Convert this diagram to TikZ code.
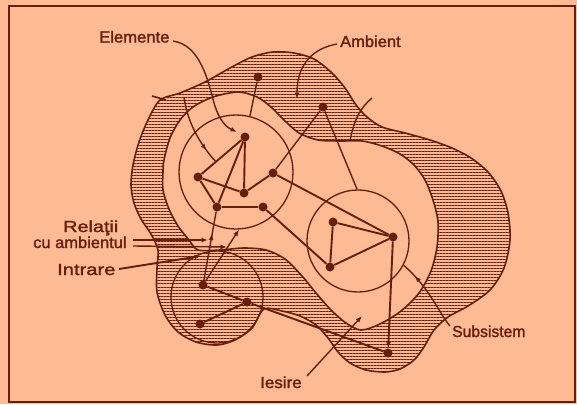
\documentclass[tikz,border=0pt]{standalone}
\usepackage{fontspec}
\setmainfont{Liberation Sans}
\newfontfamily\lblfont[FakeBold=1.6]{Liberation Sans}
\usetikzlibrary{arrows.meta,patterns.meta,decorations.markings,calc}
\definecolor{bg}{RGB}{255,187,148}
\definecolor{ink}{RGB}{105,30,10}
\begin{document}
\begin{tikzpicture}[x=1pt,y=-1pt,
  dot/.style={circle,fill=ink,inner sep=0pt,minimum size=9pt},
  ring/.style={circle,draw=ink,line width=1.3pt,inner sep=0pt},
  edge/.style={draw=ink,line width=1.9pt},
  thin/.style={draw=ink,line width=1.4pt},
  arr/.style={-{Latex[length=6.5pt,width=5pt]}},
  midarr/.style={postaction={decorate},decoration={markings,mark=at position #1 with {\arrow{Latex[length=6.5pt,width=5pt]}}}},
  lbl/.style={font=\lblfont\fontsize{16}{18}\selectfont,text=ink,inner sep=0pt,anchor=base west}]
\fill[bg] (0,0) rectangle (577,404);
\useasboundingbox (0,0) rectangle (577,404);
\draw[ink,line width=2pt] (9,6.5) rectangle (575,401.5);
% ambient band (hatched) between outer and inner boundary
\draw[ink,line width=1.6pt,pattern={Lines[angle=0,distance=3pt,line width=1pt]},pattern color=ink,even odd rule]
 plot[smooth cycle] coordinates {(160,100) (180,93) (205,82) (230,68) (252,57) (273,52) (294,53) (314,59) (332,73) (345,88) (356,105) (367,117) (382,127) (405,133) (430,140) (452,148) (471,158) (488,172) (501,191) (508,213) (510,240) (504,268) (490,290) (468,306) (448,317) (434,330) (424,347) (414,360) (400,369) (385,372) (366,370) (350,363) (338,352) (328,338) (316,325) (300,316) (282,311) (264,309) (252,328) (235,340) (217,345) (196,342) (178,332) (165,315) (157,292) (157,268) (158,250) (151,234) (141,219) (134,203) (131,185) (133,165) (139,142) (148,120)}
 plot[smooth cycle] coordinates {(164,160) (170,138) (180,120) (193,107) (213,97) (238,92) (257,97) (271,107) (284,120) (299,133) (318,140) (340,141) (362,141) (382,146) (400,154) (414,165) (425,180) (433,200) (438,222) (437,247) (431,271) (419,293) (401,311) (380,324) (361,330) (346,323) (331,310) (316,293) (302,276) (285,259) (266,250) (244,248) (220,250) (198,250) (189,240) (178,226) (169,209) (163,190) (163,172)};
\draw[ink,line width=1.6pt] (152,96) -- (166,100);
% subsystems
\node[ring,minimum size=114pt] (C1) at (236,172) {};
\node[ring,minimum size=102pt] (C2) at (358,241) {};
\node[ring,minimum size=92pt] (C3) at (217,297) {};
% elements
\node[dot] (A) at (245,137) {};
\node[dot] (B) at (198,177) {};
\node[dot] (C) at (244,193) {};
\node[dot] (D) at (273,173) {};
\node[dot] (E) at (217,207) {};
\node[dot] (F) at (263,207) {};
\node[dot] (P) at (333,222) {};
\node[dot] (R) at (393,237) {};
\node[dot] (Q) at (330,267) {};
\node[dot] (K) at (203,285) {};
\node[dot] (M) at (247,302) {};
\node[dot] (L) at (200,324) {};
\node[dot] (T1) at (258,77) {};
\node[dot] (T2) at (323,107) {};
\node[dot] (S) at (388,353) {};
% relations
\draw[edge] (A) -- (B);
\draw[edge] (A) -- (E);
\draw[edge] (A) -- (C);
\draw[edge] (B) -- (C);
\draw[edge] (B) -- (E);
\draw[edge] (C) -- (D);
\draw[edge] (E) -- (F);
\draw[edge] (D) -- (R);
\draw[edge] (F) -- (Q);
\draw[edge] (P) -- (R);
\draw[edge] (P) -- (Q);
\draw[edge] (Q) -- (R);
\draw[edge] (K) -- (M);
\draw[edge] (M) -- (L);
\draw[edge] (M) -- (S);
\draw[edge,arr] (R) -- (S);
\draw[thin] (T1) -- (C1.76);
\draw[thin] (T2) -- (D);
\draw[thin] (T2) -- (C2.91);
\draw[thin,midarr=0.68] (K) -- (E);
\draw[thin,arr] (K) -- (C1.-87);
\coordinate (ab) at ($(A)!0.62!(B)$);
\coordinate (in0) at (184,97);
\draw[thin,midarr=0.8] (in0) .. controls (187,120) and (198,142) .. (ab);
\coordinate (o1) at (350,141);
\coordinate (o2) at (372,98);
\draw[thin] (o1) .. controls (354,120) and (360,108) .. (o2);
% labels
\node[lbl] (lE) at (99,42.5) {\scalebox{1.04}[1]{Elemente}};
\node[lbl] (lA) at (340,47) {\scalebox{1.03}[1]{Ambient}};
\node[lbl] (lR) at (63,232) {\scalebox{1.24}[1]{Relaţii}};
\node[lbl] (lC) at (33,248) {\scalebox{1.03}[1]{cu ambientul}};
\node[lbl] (lI) at (57,275) {\scalebox{1.26}[1]{Intrare}};
\node[lbl] (lS) at (452,337) {\scalebox{0.98}[1]{Subsistem}};
\node[lbl] (lO) at (260,388) {\scalebox{1.06}[1]{Iesire}};
% leaders
\coordinate (e0) at (173,41);
\draw[thin,arr] (e0) .. controls (200,45) and (208,80) .. (214,103) .. controls (219,120) and (226,127) .. (237,132);
\coordinate (a0) at (337,44);
\draw[thin,arr] (a0) .. controls (315,48) and (297,62) .. (297,99);
\coordinate (r1) at (133,240);
\coordinate (r1e) at (208,240);
\coordinate (r2) at (133,246);
\coordinate (r2e) at (227,247);
\draw[thin,arr] (r1) -- (r1e);
\draw[thin,arr] (r2) -- (r2e);
\coordinate (i0) at (119,269);
\coordinate (i1) at (201,256);
\draw[edge,arr] (i0) -- (i1);
\coordinate (s0) at (450,326);
\draw[thin,midarr=0.8] (s0) .. controls (440,315) and (430,288) .. (C2.-28);
\coordinate (x0) at (307,376);
\coordinate (x1) at (362,316);
\draw[thin,arr] (x0) -- (x1);
\end{tikzpicture}
\end{document}
